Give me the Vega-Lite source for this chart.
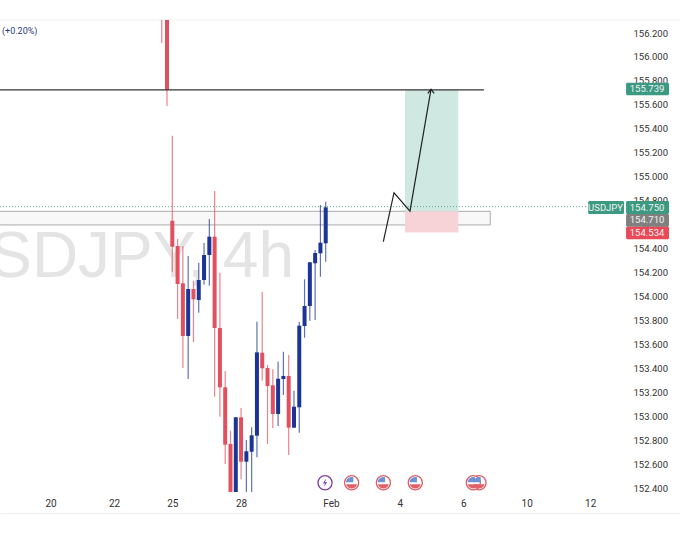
{
  "$schema": "https://vega.github.io/schema/vega-lite/v6.json",
  "width": 680,
  "height": 493,
  "autosize": {"type": "none"},
  "padding": {"left": 0, "top": 20, "right": 0, "bottom": 47},
  "background": "white",
  "view": {"stroke": null},
  "datasets": {
    "candles": [
      {"bar": -2, "high": 156.6, "low": 156.117, "open": 156.6, "close": 156.4, "dir": "down"},
      {"bar": -1, "high": 156.6, "low": 155.59, "open": 156.6, "close": 155.724, "dir": "down"},
      {"bar": 0, "high": 155.342, "low": 154.207, "open": 154.632, "close": 154.415, "dir": "down"},
      {"bar": 1, "high": 154.48, "low": 153.812, "open": 154.421, "close": 154.104, "dir": "down"},
      {"bar": 2, "high": 154.421, "low": 153.402, "open": 154.11, "close": 153.67, "dir": "down"},
      {"bar": 3, "high": 154.338, "low": 153.31, "open": 153.67, "close": 154.062, "dir": "up"},
      {"bar": 4, "high": 154.131, "low": 153.619, "open": 154.062, "close": 153.976, "dir": "down"},
      {"bar": 5, "high": 154.282, "low": 153.864, "open": 153.97, "close": 154.137, "dir": "up"},
      {"bar": 6, "high": 154.446, "low": 154.098, "open": 154.137, "close": 154.346, "dir": "up"},
      {"bar": 7, "high": 154.647, "low": 154.09, "open": 154.346, "close": 154.499, "dir": "up"},
      {"bar": 8, "high": 154.88, "low": 153.163, "open": 154.499, "close": 153.736, "dir": "down"},
      {"bar": 9, "high": 154.198, "low": 152.996, "open": 153.736, "close": 153.241, "dir": "down"},
      {"bar": 10, "high": 153.377, "low": 152.601, "open": 153.241, "close": 152.762, "dir": "down"},
      {"bar": 11, "high": 152.879, "low": 152.367, "open": 152.768, "close": 152.367, "dir": "down"},
      {"bar": 12, "high": 152.991, "low": 152.367, "open": 152.367, "close": 152.991, "dir": "up"},
      {"bar": 13, "high": 153.068, "low": 152.473, "open": 152.991, "close": 152.62, "dir": "down"},
      {"bar": 14, "high": 152.801, "low": 152.367, "open": 152.62, "close": 152.707, "dir": "up"},
      {"bar": 15, "high": 152.907, "low": 152.367, "open": 152.703, "close": 152.84, "dir": "up"},
      {"bar": 16, "high": 153.789, "low": 152.656, "open": 152.837, "close": 153.533, "dir": "up"},
      {"bar": 17, "high": 154.04, "low": 153.296, "open": 153.53, "close": 153.4, "dir": "down"},
      {"bar": 18, "high": 153.427, "low": 152.768, "open": 153.402, "close": 153.252, "dir": "down"},
      {"bar": 19, "high": 153.391, "low": 152.901, "open": 153.258, "close": 153.018, "dir": "down"},
      {"bar": 20, "high": 153.455, "low": 152.918, "open": 153.018, "close": 153.313, "dir": "up"},
      {"bar": 21, "high": 153.538, "low": 153.177, "open": 153.31, "close": 153.336, "dir": "up"},
      {"bar": 22, "high": 153.511, "low": 152.676, "open": 153.336, "close": 152.904, "dir": "down"},
      {"bar": 23, "high": 153.213, "low": 152.904, "open": 152.904, "close": 153.079, "dir": "up"},
      {"bar": 24, "high": 153.789, "low": 152.862, "open": 153.074, "close": 153.756, "dir": "up"},
      {"bar": 25, "high": 154.143, "low": 153.655, "open": 153.753, "close": 153.92, "dir": "up"},
      {"bar": 26, "high": 154.288, "low": 153.797, "open": 153.92, "close": 154.285, "dir": "up"},
      {"bar": 27, "high": 154.388, "low": 153.803, "open": 154.277, "close": 154.363, "dir": "up"},
      {"bar": 28, "high": 154.764, "low": 154.165, "open": 154.36, "close": 154.449, "dir": "up"},
      {"bar": 29, "high": 154.791, "low": 154.29, "open": 154.444, "close": 154.744, "dir": "up"}
    ],
    "badges": [
      {"name": "target", "from": 85.77, "to": 93.9, "top": 155.785, "bottom": 155.68, "mid": 89.74, "price": 155.7325, "label": "155.739"},
      {"name": "ticker", "from": 78.6, "to": 85.4, "top": 154.797, "bottom": 154.688, "mid": 81.9, "price": 154.7425, "label": "USDJPY"},
      {"name": "ticker", "from": 85.77, "to": 93.9, "top": 154.797, "bottom": 154.688, "mid": 89.74, "price": 154.7425, "label": "154.750"},
      {"name": "entry", "from": 85.77, "to": 93.9, "top": 154.688, "bottom": 154.582, "mid": 89.74, "price": 154.635, "label": "154.710"},
      {"name": "stop", "from": 85.77, "to": 93.9, "top": 154.582, "bottom": 154.477, "mid": 89.74, "price": 154.53, "label": "154.534"}
    ],
    "path": [
      {"leg": "move", "step": 1, "bar": 39.89, "price": 154.457},
      {"leg": "move", "step": 2, "bar": 41.91, "price": 154.866},
      {"leg": "move", "step": 3, "bar": 44.93, "price": 154.713},
      {"leg": "move", "step": 4, "bar": 48.9, "price": 155.73},
      {"leg": "head", "step": 1, "bar": 48.3, "price": 155.695},
      {"leg": "head", "step": 2, "bar": 48.9, "price": 155.73},
      {"leg": "head", "step": 3, "bar": 49.5, "price": 155.695}
    ],
    "flags": [
      {"bar": 33.9, "price": 152.444},
      {"bar": 39.9, "price": 152.444},
      {"bar": 45.93, "price": 152.444},
      {"bar": 57.98, "price": 152.444},
      {"bar": 56.9, "price": 152.444}
    ]
  },
  "encoding": {
    "x": {
      "field": "bar",
      "type": "quantitative",
      "title": null,
      "scale": {"domain": [-32.57, 95.97], "nice": false, "zero": false},
      "axis": {
        "values": [-23, -11, 0, 13, 30, 43, 55, 67, 79],
        "labelExpr": "{'-23':'20','-11':'22','0':'25','13':'28','30':'Feb','43':'4','55':'6','67':'10','79':'12'}[datum.value]",
        "grid": false,
        "ticks": false,
        "domainColor": "#eeeeee",
        "labelPadding": -15,
        "labelFontSize": 10,
        "labelFont": "Roboto",
        "labelColor": "#333333",
        "labelOverlap": false,
        "labelBound": false,
        "labelFlush": false
      }
    },
    "y": {
      "type": "quantitative",
      "title": null,
      "scale": {"domain": [152.1914, 156.3086], "nice": false, "zero": false},
      "axis": {
        "orient": "right",
        "values": [152.4, 152.6, 152.8, 153, 153.2, 153.4, 153.6, 153.8, 154, 154.2, 154.4, 154.6, 154.8, 155, 155.2, 155.4, 155.6, 155.8, 156, 156.2],
        "format": ".3f",
        "grid": false,
        "ticks": false,
        "domain": false,
        "labelPadding": -47,
        "labelFontSize": 9.5,
        "labelFont": "Roboto",
        "labelColor": "#333333",
        "labelOverlap": false,
        "labelBound": false
      }
    },
    "color": {"field": "kind", "type": "nominal", "legend": null, "scale": {"domain": ["up", "down", "target", "ticker", "entry", "stop"], "range": ["#1c3594", "#e0505e", "#3d9a82", "#3d9a82", "#808080", "#e84a58"]}}
  },
  "layer": [
    {
      "data": {"values": [{"price": 156.3086}]},
      "mark": {"type": "rule", "color": "#eeeeee", "strokeWidth": 1},
      "encoding": {"y": {"field": "price", "type": "quantitative"}, "x": {"value": 0}, "x2": {"value": 680}, "color": {"value": "#eeeeee"}}
    },
    {
      "data": {"values": [{"bar": 23, "price": 154.321, "label": "USDJPY, 4h"}]},
      "mark": {"type": "text", "align": "right", "baseline": "middle", "font": "Liberation Sans", "fontSize": 64, "clip": true},
      "encoding": {"y": {"field": "price", "type": "quantitative"}, "text": {"field": "label"}, "color": {"value": "#e4e4e4"}}
    },
    {
      "data": {"values": [{"bar": -40, "to": 60.1, "top": 154.711, "bottom": 154.597}]},
      "mark": {"type": "rect", "stroke": "#aaaaaa", "strokeWidth": 1, "clip": true},
      "encoding": {"x2": {"field": "to"}, "y": {"field": "top", "type": "quantitative"}, "y2": {"field": "bottom"}, "color": {"value": "#f8f8f8"}}
    },
    {
      "data": {"values": [{"bar": 44, "to": 54.06, "top": 155.725, "bottom": 154.71}]},
      "mark": {"type": "rect"},
      "encoding": {"x2": {"field": "to"}, "y": {"field": "top", "type": "quantitative"}, "y2": {"field": "bottom"}, "color": {"value": "#cfe8e1"}}
    },
    {
      "data": {"values": [{"bar": 44, "to": 54.06, "top": 154.71, "bottom": 154.534}]},
      "mark": {"type": "rect"},
      "encoding": {"x2": {"field": "to"}, "y": {"field": "top", "type": "quantitative"}, "y2": {"field": "bottom"}, "color": {"value": "#f7d3d8"}}
    },
    {
      "data": {"values": [{"bar": -32.57, "to": 78.6, "price": 154.75}]},
      "mark": {"type": "rule", "strokeWidth": 1, "strokeDash": [1, 2], "opacity": 0.8},
      "encoding": {"x2": {"field": "to"}, "y": {"field": "price", "type": "quantitative"}, "color": {"value": "#3d9a82"}}
    },
    {
      "data": {"name": "candles"},
      "transform": [{"calculate": "datum.dir", "as": "kind"}],
      "mark": {"type": "rule", "strokeWidth": 1.2, "opacity": 0.7, "clip": true},
      "encoding": {
        "y": {"field": "low", "type": "quantitative"},
        "y2": {"field": "high"}
      }
    },
    {
      "data": {"name": "candles"},
      "transform": [{"calculate": "datum.dir", "as": "kind"}],
      "mark": {"type": "rule", "strokeWidth": 4, "clip": true},
      "encoding": {
        "y": {"field": "open", "type": "quantitative"},
        "y2": {"field": "close"}
      }
    },
    {
      "data": {"values": [{"bar": -32.57, "to": 58.9, "price": 155.725}]},
      "mark": {"type": "rule", "strokeWidth": 1.2},
      "encoding": {"x2": {"field": "to"}, "y": {"field": "price", "type": "quantitative"}, "color": {"value": "#333333"}}
    },
    {
      "data": {"name": "path"},
      "mark": {"type": "line", "strokeWidth": 1.2},
      "encoding": {
        "y": {"field": "price", "type": "quantitative"},
        "detail": {"field": "leg"},
        "order": {"field": "step"},
        "color": {"value": "#222222"}
      }
    },
    {
      "data": {"values": [{"bar": 28.87, "price": 152.444}]},
      "mark": {"type": "point", "shape": "circle", "size": 200, "filled": false, "fill": "white", "fillOpacity": 1, "strokeWidth": 1.3, "opacity": 1},
      "encoding": {"y": {"field": "price", "type": "quantitative"}, "color": {"value": "#7b3fa8"}}
    },
    {
      "data": {"values": [{"bar": 28.87, "price": 152.444}]},
      "mark": {"type": "point", "shape": "M0.2,-1 L-0.5,0.15 L-0.05,0.15 L-0.2,1 L0.5,-0.2 L0.05,-0.2 Z", "size": 70, "filled": true, "opacity": 1},
      "encoding": {"y": {"field": "price", "type": "quantitative"}, "color": {"value": "#8a4dbb"}}
    },
    {
      "data": {"name": "flags"},
      "mark": {"type": "point", "shape": "circle", "size": 200, "filled": false, "fill": "white", "fillOpacity": 1, "strokeWidth": 1.3, "opacity": 1},
      "encoding": {"y": {"field": "price", "type": "quantitative"}, "color": {"value": "#d9626a"}}
    },
    {
      "data": {"name": "flags"},
      "mark": {"type": "point", "shape": "M-1,-0.1 A1,1 0 0 1 0.3,-0.95 L0.3,-0.1 Z", "size": 130, "filled": true, "opacity": 1},
      "encoding": {"y": {"field": "price", "type": "quantitative"}, "color": {"value": "#6d93d6"}}
    },
    {
      "data": {"name": "flags"},
      "mark": {"type": "point", "shape": "M-0.97,0.25 L0.97,0.25 A1,1 0 0 1 -0.97,0.25 Z", "size": 130, "filled": true, "opacity": 1},
      "encoding": {"y": {"field": "price", "type": "quantitative"}, "color": {"value": "#e0606a"}}
    },
    {
      "data": {"values": [{"bar": -32.2, "price": 156.217, "label": "(+0.20%)"}]},
      "mark": {"type": "text", "align": "left", "baseline": "middle", "font": "Roboto", "fontSize": 9},
      "encoding": {"y": {"field": "price", "type": "quantitative"}, "text": {"field": "label"}, "color": {"value": "#2a3a80"}}
    },
    {
      "data": {"name": "badges"},
      "transform": [{"calculate": "datum.name", "as": "kind"}],
      "mark": {"type": "rect", "cornerRadius": 1.5},
      "encoding": {
        "x": {"field": "from", "type": "quantitative"},
        "x2": {"field": "to"},
        "y": {"field": "top", "type": "quantitative"},
        "y2": {"field": "bottom"}
      }
    },
    {
      "data": {"name": "badges"},
      "mark": {"type": "text", "align": "center", "baseline": "middle", "font": "Roboto", "fontSize": 9.5},
      "encoding": {
        "x": {"field": "mid", "type": "quantitative"},
        "y": {"field": "price", "type": "quantitative"},
        "text": {"field": "label"},
        "color": {"value": "#f2f2f2"}
      }
    }
  ]
}
